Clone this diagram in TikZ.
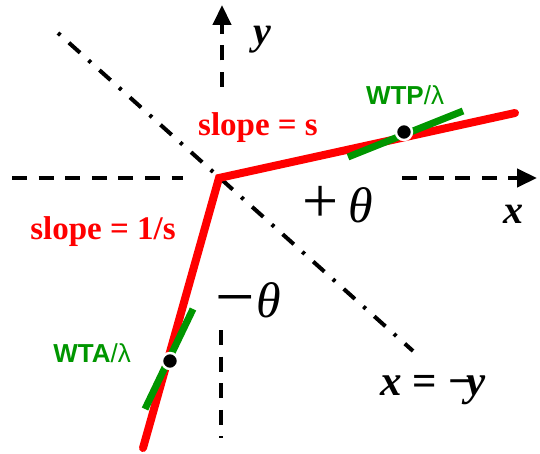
\documentclass[tikz,border=0pt]{standalone}
\usepackage{fontspec}
\setmainfont{Liberation Serif}
\newfontfamily\arialf{Liberation Sans}
\usetikzlibrary{arrows.meta}
\definecolor{dgreen}{RGB}{0,150,0}
\begin{document}
\begin{tikzpicture}[x=0.5pt,y=-0.5pt,
 axis/.style={line width=2.2pt, dash pattern=on 7.5pt off 5.8pt},
 axarrow/.style={axis,-{Triangle[length=10pt,width=9pt]}},
 diag/.style={line width=2pt, dash pattern=on 1.6pt off 5.7pt on 7.5pt off 5.7pt},
 curve/.style={red, line width=4pt, line cap=round, line join=miter},
 tang/.style={dgreen, line width=3.5pt},
 pt/.style={circle, fill=black, draw=white, line width=1.2pt, inner sep=0pt, minimum size=8pt},
 redlbl/.style={text=red, inner sep=0pt, font=\fontsize{16.5}{18}\selectfont\bfseries},
 grnlbl/.style={text=dgreen, inner sep=0pt, font=\fontsize{13}{15}\selectfont\arialf},
 mathlbl/.style={inner sep=0pt, font=\fontsize{20}{22}\selectfont},
 thetalbl/.style={inner sep=0pt, anchor=base, font=\fontsize{25}{27}\selectfont\itshape},
 signlbl/.style={inner sep=0pt, anchor=base, font=\fontsize{32}{34}\selectfont}
]
\useasboundingbox (0,0) rectangle (540,454);
% coordinates
\coordinate (xl0) at (12,178);
\coordinate (xl1) at (183,178);
\coordinate (xr0) at (402,178);
\coordinate (xr1) at (537,178);
\coordinate (yt0) at (222,87);
\coordinate (yt1) at (222,5);
\coordinate (yb0) at (221,330);
\coordinate (yb1) at (221,438);
\coordinate (dd1) at (58,33);
\coordinate (dd2) at (413,351);
\coordinate (corner) at (219,178);
\coordinate (top) at (515,113);
\coordinate (bot) at (143,448);
\coordinate (gp1) at (348,157);
\coordinate (gp2) at (463,111);
\coordinate (ga1) at (145,409);
\coordinate (ga2) at (193,309);
% axes
\draw[axis] (xl0) -- (xl1);
\draw[axarrow] (xr0) -- (xr1);
\draw[axarrow] (yt0) -- (yt1);
\draw[axis] (yb0) -- (yb1);
% x = -y line
\draw[diag] (dd1) -- (dd2);
% curve
\draw[curve] (bot) -- (corner) -- (top);
% tangents
\draw[tang] (gp1) -- (gp2);
\draw[tang] (ga1) -- (ga2);
\node[pt] (wtp) at (404,132) {};
\node[pt] (wta) at (170,361) {};
% labels
\node[mathlbl] (ylab) at (262,40) {\textbf{\textit{y}}};
\node[mathlbl] (xlab) at (513,214) {\textbf{\textit{x}}};
\node[signlbl] (plus) at (321,222) {+};
\node[thetalbl] (th1) at (361,222) {θ};
\node[signlbl, font=\fontsize{35}{37}\selectfont] (minus) at (235.5,320) {−};
\node[thetalbl] (th2) at (269,317) {θ};
\node[mathlbl, font=\fontsize{21.5}{23}\selectfont] (xeqy) at (433,390) {\textbf{\textit{x}} \textbf{=} \textbf{−\kern-0.15em\textit{y}}};
\node[redlbl] (s1) at (258,128) {slope = s};
\node[redlbl] (s2) at (103,232) {slope = 1/s};
\node[grnlbl] (wtpl) at (405,95) {\textbf{WTP}/λ};
\node[grnlbl] (wtal) at (92,353) {\textbf{WTA}/λ};
\end{tikzpicture}
\end{document}
